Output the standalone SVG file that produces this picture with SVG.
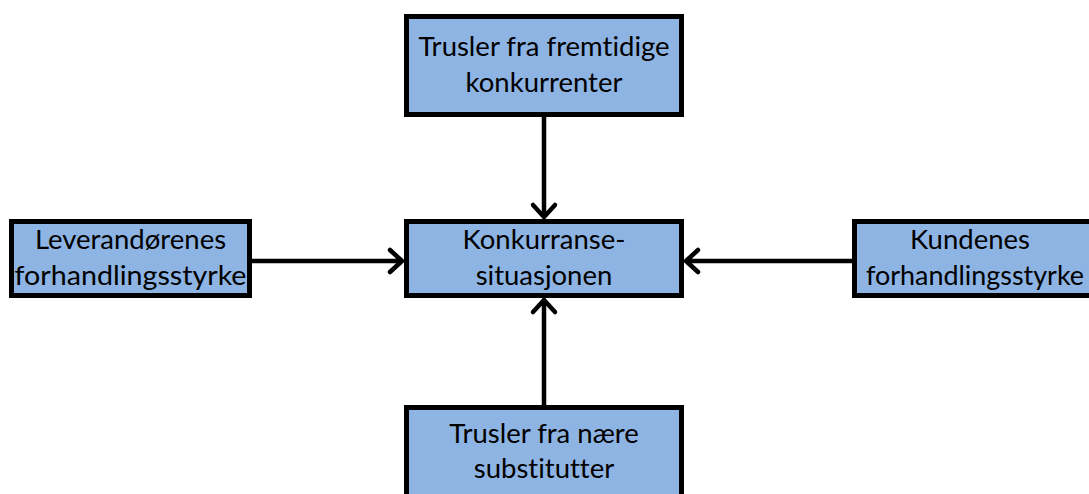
<svg xmlns="http://www.w3.org/2000/svg" width="1089" height="494" viewBox="0 0 1089 494">
<defs>
<style>
.box{fill:#8EB4E3;stroke:#000;stroke-width:5}
.t{font-family:Lato,"Open Sans","Liberation Sans",sans-serif;font-size:27.5px;fill:#000;text-anchor:middle;font-variant-ligatures:none}
.c{stroke:#000;stroke-width:4.5;fill:none;stroke-linecap:round;stroke-linejoin:round}
</style>
</defs>
<rect width="1089" height="494" fill="#fff"/>
<g id="top">
<rect class="box" x="406.5" y="16.5" width="275" height="98"/>
<text class="t" x="544" y="56">Trusler fra fremtidige</text>
<text class="t" x="544" y="92">konkurrenter</text>
</g>
<g id="center">
<rect class="box" x="406.5" y="221.5" width="275" height="74"/>
<text class="t" x="544" y="249">Konkurranse-</text>
<text class="t" x="544" y="285">situasjonen</text>
</g>
<g id="left">
<rect class="box" x="11.5" y="221.5" width="238" height="74"/>
<text class="t" x="130.5" y="249">Leverandørenes</text>
<text class="t" x="130.5" y="285" textLength="232" lengthAdjust="spacingAndGlyphs">forhandlingsstyrke</text>
</g>
<g id="right">
<rect class="box" x="854.5" y="221.5" width="240" height="74"/>
<text class="t" x="970" y="249">Kundenes</text>
<text class="t" x="975" y="285" textLength="218" lengthAdjust="spacingAndGlyphs">forhandlingsstyrke</text>
</g>
<g id="bottom">
<rect class="box" x="406.5" y="407.5" width="275" height="100"/>
<text class="t" x="544" y="443">Trusler fra nære</text>
<text class="t" x="544" y="478">substitutter</text>
</g>
<g id="connectors">
<path class="c" d="M544 117V217M533 205L544 217L555 205"/>
<path class="c" d="M252 261H402M390 250L402 261L390 272"/>
<path class="c" d="M852 261H686M698 250L686 261L698 272"/>
<path class="c" d="M544 405V300M533 312L544 300L555 312"/>
</g>
</svg>
